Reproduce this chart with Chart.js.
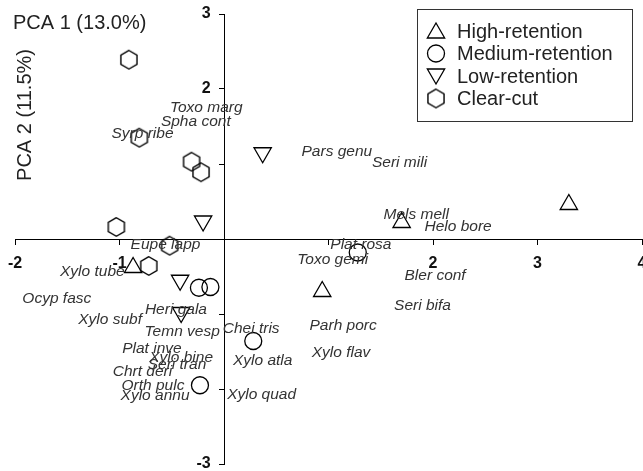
<!DOCTYPE html>
<html><head><meta charset="utf-8">
<script src="https://cdn.jsdelivr.net/npm/chart.js@4.4.0/dist/chart.umd.min.js"></script>
<style>html,body{margin:0;padding:0;background:#fff;} canvas{display:block;}</style>
</head><body>
<canvas id="c" width="643" height="471"></canvas>
<script>
// ---- axis ticks ----
const xTicks = [-2, -1, 0, 1, 2, 3, 4];
const xTickLabels = ['-2', '-1', '', '', '2', '3', '4'];
const yTicks = [-3, -2, -1, 0, 1, 2, 3];
const yTickLabels = ['-3', '', '', '', '', '2', '3'];

const xTitle = 'PCA 1 (13.0%)';
const yTitle = 'PCA 2 (11.5%)';

// ---- site scores ----
const groupNames = ['High-retention', 'Medium-retention', 'Low-retention', 'Clear-cut'];
const highX = [-0.87, 0.94, 1.70, 3.30];
const highY = [-0.38, -0.70, 0.22, 0.46];
const mediumX = [-0.24, -0.13, 0.28, -0.23, 1.28];
const mediumY = [-0.65, -0.64, -1.36, -1.95, -0.18];
const lowX = [0.37, -0.20, -0.42, -0.41];
const lowY = [1.15, 0.24, -0.55, -0.98];
const clearX = [-0.91, -0.81, -0.31, -0.22, -1.03, -0.52, -0.72];
const clearY = [2.39, 1.35, 1.03, 0.89, 0.16, -0.09, -0.36];

// ---- species scores ----
const speciesNames = ['Toxo marg', 'Spha cont', 'Syrp ribe', 'Pars genu', 'Seri mili', 'Mels mell', 'Helo bore',
  'Plat rosa', 'Toxo gemi', 'Bler conf', 'Seri bifa', 'Parh porc', 'Xylo flav', 'Eupe lapp', 'Xylo tube',
  'Ocyp fasc', 'Heri gala', 'Xylo subf', 'Temn vesp', 'Chei tris', 'Plat inve', 'Xylo bine', 'Seri tran',
  'Xylo atla', 'Chrt deri', 'Orth pulc', 'Xylo annu', 'Xylo quad'];
const speciesX = [-0.17, -0.27, -0.78, 1.08, 1.68, 1.84, 2.24,
  1.31, 1.04, 2.02, 1.90, 1.14, 1.12, -0.56, -1.26,
  -1.60, -0.46, -1.09, -0.40, 0.26, -0.69, -0.41, -0.45,
  0.37, -0.78, -0.68, -0.66, 0.36];
const speciesY = [1.75, 1.57, 1.41, 1.16, 1.02, 0.32, 0.17,
  -0.07, -0.28, -0.49, -0.89, -1.16, -1.51, -0.08, -0.44,
  -0.79, -0.94, -1.07, -1.24, -1.19, -1.46, -1.58, -1.68,
  -1.62, -1.77, -1.96, -2.09, -2.08];

const FONT = '"Liberation Sans", Arial, Helvetica, sans-serif';

function pts(xs, ys) { return xs.map((x, i) => ({x: x, y: ys[i]})); }

// hexagon marker as a canvas image
const hex = document.createElement('canvas');
hex.width = 24; hex.height = 24;
(function () {
  const g = hex.getContext('2d');
  g.strokeStyle = '#000'; g.lineWidth = 1.4;
  g.beginPath();
  for (let k = 0; k < 6; k++) {
    const a = Math.PI / 2 + k * Math.PI / 3;
    const px = 12 + 9.3 * Math.cos(a), py = 12 - 9.3 * Math.sin(a);
    if (k === 0) g.moveTo(px, py); else g.lineTo(px, py);
  }
  g.closePath(); g.stroke();
})();

const markerBase = {showLine: false, borderColor: '#000', backgroundColor: 'rgba(0,0,0,0)', borderWidth: 1.3};

const datasets = [
  Object.assign({label: groupNames[0], data: pts(highX, highY), pointStyle: 'triangle', pointRadius: 10, rotation: 0}, markerBase),
  Object.assign({label: groupNames[1], data: pts(mediumX, mediumY), pointStyle: 'circle', pointRadius: 8.5, rotation: 0}, markerBase),
  Object.assign({label: groupNames[2], data: pts(lowX, lowY), pointStyle: 'triangle', pointRadius: 10, rotation: 180}, markerBase),
  Object.assign({label: groupNames[3], data: pts(clearX, clearY), pointStyle: hex, pointRadius: 10, rotation: 0}, markerBase),
  {label: 'species', data: pts(speciesX, speciesY), pointRadius: 0, showLine: false, speciesLabels: speciesNames}
];

const speciesPlugin = {
  id: 'speciesText',
  afterDatasetsDraw(chart) {
    const ctx = chart.ctx;
    const meta = chart.getDatasetMeta(4);
    const names = chart.data.datasets[4].speciesLabels;
    ctx.save();
    ctx.font = 'italic 15.5px ' + FONT;
    ctx.fillStyle = '#333';
    ctx.textAlign = 'center';
    ctx.textBaseline = 'middle';
    meta.data.forEach((el, i) => ctx.fillText(names[i], el.x, el.y));
    ctx.restore();
  }
};

const decorPlugin = {
  id: 'decor',
  afterDraw(chart) {
    const ctx = chart.ctx;
    ctx.save();
    // axis titles
    ctx.fillStyle = '#222';
    ctx.font = '20px ' + FONT;
    ctx.textAlign = 'left'; ctx.textBaseline = 'middle';
    ctx.fillText(xTitle, 13, 23);
    ctx.save();
    ctx.translate(25, 115);
    ctx.rotate(-Math.PI / 2);
    ctx.textAlign = 'center';
    ctx.fillText(yTitle, 0, 0);
    ctx.restore();
    // legend
    ctx.strokeStyle = '#333'; ctx.lineWidth = 1;
    ctx.strokeRect(417.5, 9.5, 215, 112);
    const rowY = [31, 53.5, 76, 98.5];
    for (let i = 0; i < 4; i++) {
      const ds = chart.data.datasets[i];
      ctx.strokeStyle = '#000'; ctx.fillStyle = 'rgba(0,0,0,0)'; ctx.lineWidth = 1.3;
      let r = ds.pointRadius, cy = rowY[i];
      if (ds.pointStyle === 'triangle') cy += (ds.rotation ? -2 : 2);
      Chart.helpers.drawPoint(ctx, {pointStyle: ds.pointStyle, rotation: ds.rotation, radius: r, borderWidth: 1.3}, 436, cy);
      ctx.fillStyle = '#222';
      ctx.font = '20px ' + FONT;
      ctx.textAlign = 'left'; ctx.textBaseline = 'middle';
      ctx.fillText(ds.label, 457, rowY[i] + 1);
    }
    ctx.restore();
  }
};

const tickFont = {family: FONT, size: 16, weight: 'bold'};

new Chart(document.getElementById('c'), {
  type: 'scatter',
  data: {datasets: datasets},
  plugins: [speciesPlugin, decorPlugin],
  options: {
    responsive: false,
    animation: false,
    events: [],
    layout: {autoPadding: false, padding: {left: 15, right: 1, top: 14, bottom: 7}},
    plugins: {legend: {display: false}, tooltip: {enabled: false}, title: {display: false}},
    scales: {
      x: {
        type: 'linear', min: -2, max: 4, position: {y: 0},
        afterBuildTicks(s) { s.ticks = xTicks.map(v => ({value: v})); },
        afterFit(s) { s.height = 0; s.paddingLeft = 0; s.paddingRight = 0; },
        ticks: {callback: (v, i) => xTickLabels[i], font: tickFont, color: '#111', padding: 10, maxRotation: 0, autoSkip: false},
        grid: {drawOnChartArea: false, drawTicks: true, tickLength: 5, color: '#000', lineWidth: 1},
        border: {display: true, color: '#000', width: 1}
      },
      y: {
        type: 'linear', min: -3, max: 3, position: {x: 0},
        afterBuildTicks(s) { s.ticks = yTicks.map(v => ({value: v})); },
        afterFit(s) { s.width = 0; s.paddingTop = 0; s.paddingBottom = 0; },
        ticks: {callback: (v, i) => yTickLabels[i] ? yTickLabels[i] + '   ' : '', font: tickFont, color: '#111', padding: 6, autoSkip: false},
        grid: {drawOnChartArea: false, drawTicks: true, tickLength: 5, color: '#000', lineWidth: 1},
        border: {display: true, color: '#000', width: 1}
      }
    }
  }
});
</script>
</body></html>
